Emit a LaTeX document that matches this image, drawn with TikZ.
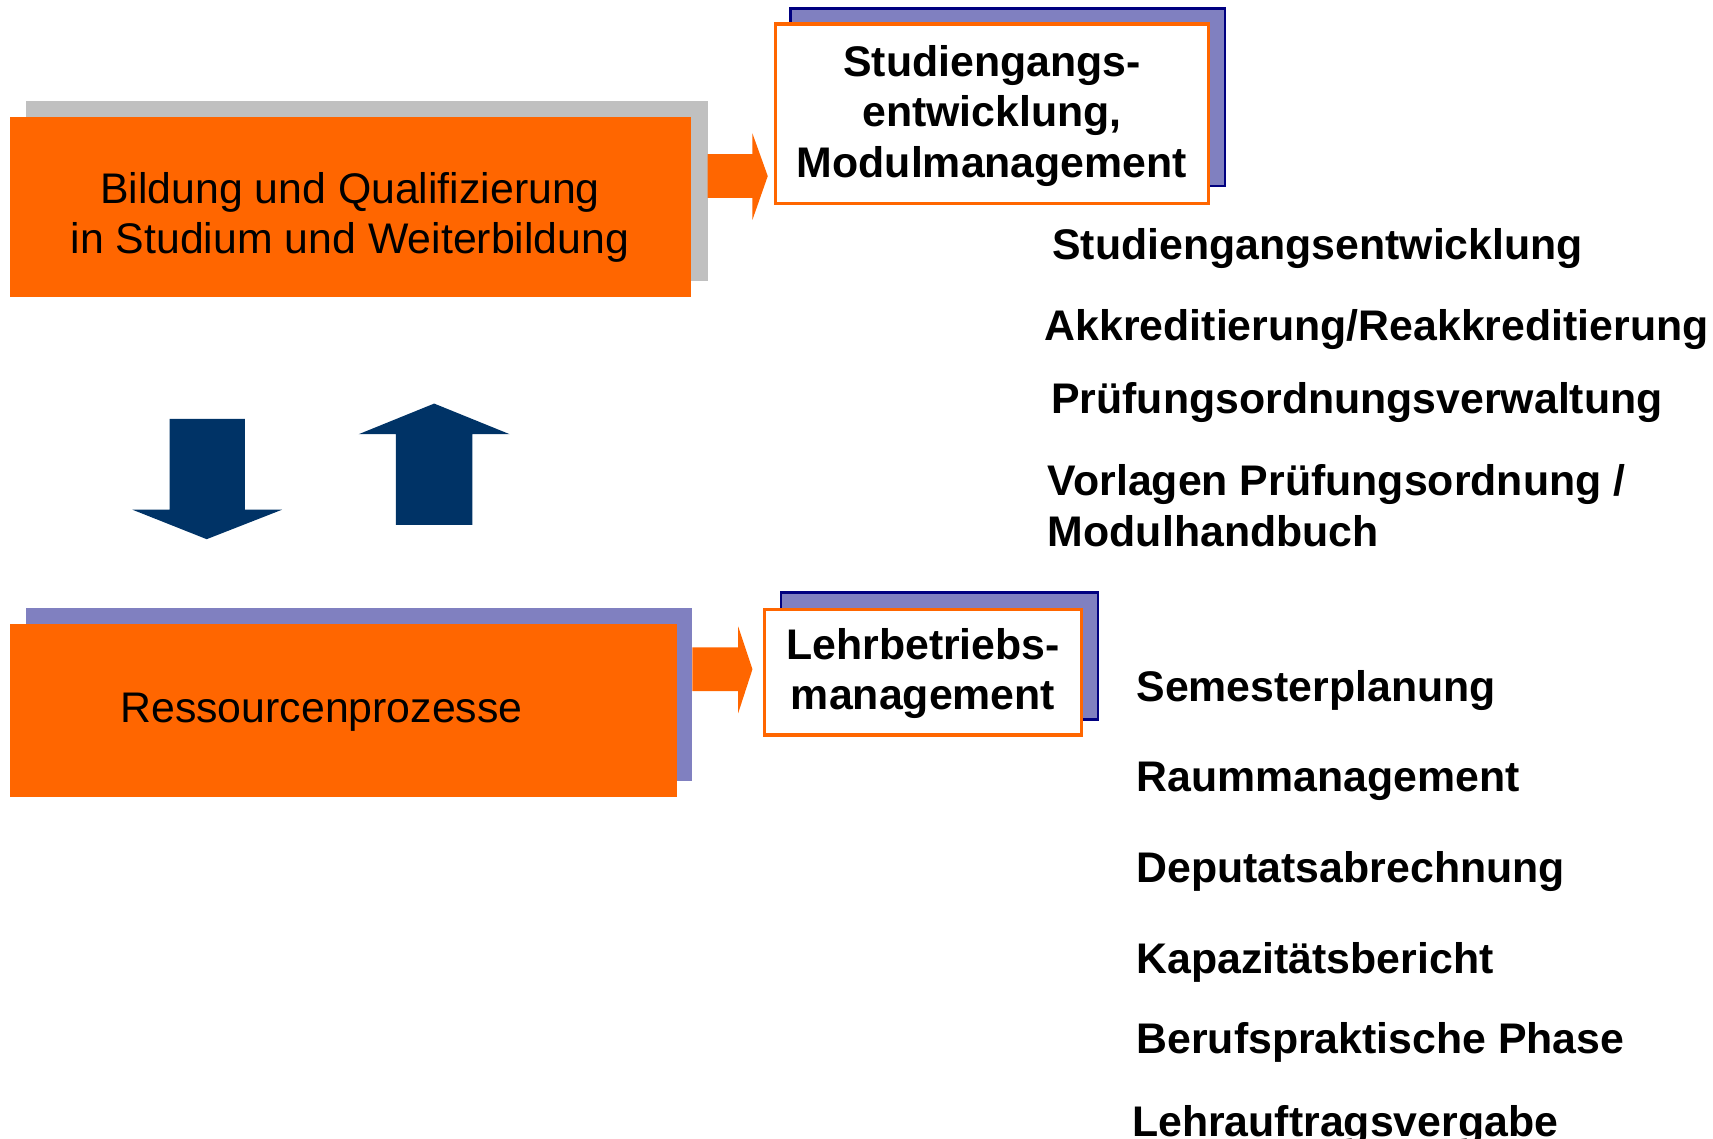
\documentclass[tikz,border=0pt]{standalone}
\usepackage{fontspec}
\setmainfont{Liberation Sans}
\definecolor{orng}{HTML}{FF6600}
\definecolor{shgray}{HTML}{C0C0C0}
\definecolor{lav}{HTML}{8080C0}
\definecolor{navyb}{HTML}{000080}
\definecolor{darkbl}{HTML}{003366}
\tikzset{
  boxbase/.style={rectangle, anchor=north west, inner sep=0pt, outer sep=0pt},
  graybg/.style={boxbase, fill=shgray},
  lavbg/.style={boxbase, fill=lav},
  mainbox/.style={boxbase, fill=orng},
  navybox/.style={boxbase, fill=lav, draw=navyb, line width=2.5pt},
  whitebox/.style={boxbase, fill=white, draw=orng, line width=3pt},
  regtext/.style={inner sep=0pt, font=\fontsize{39}{46}\selectfont, align=center},
  boldtext/.style={inner sep=0pt, font=\bfseries\fontsize{39}{46}\selectfont, align=center},
  listitem/.style={inner sep=0pt, anchor=base west, font=\bfseries\fontsize{39}{46}\selectfont},
  orarrow/.style={fill=orng},
  blarrow/.style={fill=darkbl}
}
\begin{document}
\begin{tikzpicture}[x=0.996pt,y=-0.996pt]
\useasboundingbox (0,0) rectangle (1566.3,1040.6);
% top left block
\node[graybg, minimum width=620.5pt, minimum height=164.3pt] (bqshadow) at (24,92) {};
\node[mainbox, minimum width=620.5pt, minimum height=164.3pt] (bq) at (9,107) {};
\node[regtext] (bqtext) at (320,199) {Bildung und Qualifizierung\\in Studium und Weiterbildung};
% top orange arrow
\fill[orarrow] (647,141) -- (688,141) -- (688,122) -- (702,161) -- (688,201) -- (688,181) -- (647,181) -- cycle;
% top right box
\node[navybox, minimum width=395.4pt, minimum height=161.4pt] (smshadow) at (723,8) {};
\node[whitebox, minimum width=394.4pt, minimum height=163.3pt] (sm) at (709,22) {};
\node[boldtext] (smtext) at (907,106) {Studiengangs-\\entwicklung,\\Modulmanagement};
% list 1
\node[listitem] (l1) at (962,237) {Studiengangsentwicklung};
\node[listitem] (l2) at (955,311) {Akkreditierung/Reakkreditierung};
\node[listitem] (l3) at (961,378) {Prüfungsordnungsverwaltung};
\node[listitem] (l4) at (958,453) {Vorlagen Prüfungsordnung /};
\node[listitem] (l5) at (958,500) {Modulhandbuch};
% blue arrows
\fill[blarrow] (155,383) -- (224,383) -- (224,466) -- (258,466) -- (189,493) -- (121,466) -- (155,466) -- cycle;
\fill[blarrow] (362,480) -- (432,480) -- (432,397) -- (466,397) -- (397,369) -- (328,397) -- (362,397) -- cycle;
% bottom left block
\node[lavbg, minimum width=606.6pt, minimum height=157.4pt] (rpshadow) at (24,556) {};
\node[mainbox, minimum width=607.6pt, minimum height=157.4pt] (rp) at (9,571) {};
\node[regtext] (rptext) at (294,651) {Ressourcenprozesse};
% bottom orange arrow
\fill[orarrow] (633,592) -- (675,592) -- (675,573) -- (688,612) -- (675,652) -- (675,632) -- (633,632) -- cycle;
% Lehrbetriebs box
\node[navybox, minimum width=288.8pt, minimum height=115.5pt] (lbshadow) at (714,542) {};
\node[whitebox, minimum width=288.8pt, minimum height=114.5pt] (lb) at (699,557) {};
\node[boldtext] (lbtext) at (844,616) {Lehrbetriebs-\\management};
% list 2
\node[listitem] (m1) at (1039,641) {Semesterplanung};
\node[listitem] (m2) at (1039,724) {Raummanagement};
\node[listitem] (m3) at (1039,807) {Deputatsabrechnung};
\node[listitem] (m4) at (1039,890) {Kapazitätsbericht};
\node[listitem] (m5) at (1039,963) {Berufspraktische Phase};
\node[listitem] (m6) at (1035,1039) {Lehrauftragsvergabe};
\end{tikzpicture}
\end{document}
